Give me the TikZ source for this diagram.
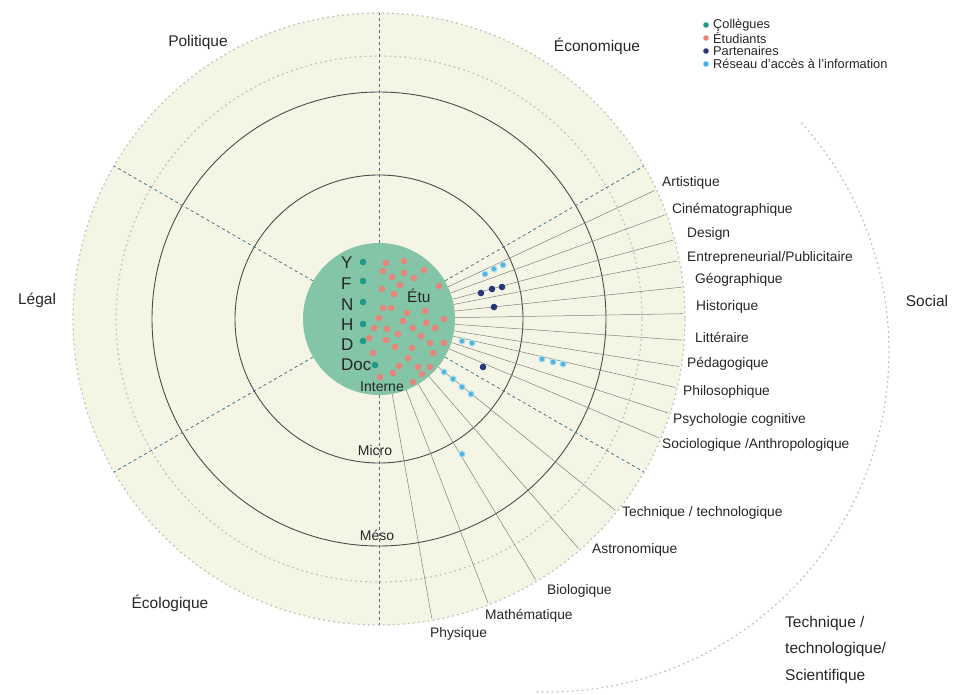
\documentclass[tikz,border=0pt]{standalone}
\usepackage{fontspec}
\setmainfont{Liberation Sans}
\usetikzlibrary{positioning}

\definecolor{creme}{HTML}{F5F5E5}
\definecolor{vert}{HTML}{84C4A7}
\definecolor{sarcelle}{HTML}{1E9A88}
\definecolor{saumon}{HTML}{E8857B}
\definecolor{marine}{HTML}{27367A}
\definecolor{ciel}{HTML}{4CB5E2}
\definecolor{halo}{HTML}{A9DCF2}
\definecolor{bleusect}{HTML}{3F7594}
\definecolor{pointille}{HTML}{C4C4BC}
\definecolor{texte}{HTML}{262626}

\tikzset{
  niveau/.style={draw=black!70, line width=0.9pt},
  zone/.style={draw=pointille, line width=1.2pt, dash pattern=on 2pt off 3pt},
  secteur/.style={draw=bleusect, line width=0.8pt, dash pattern=on 3pt off 3pt},
  rayon/.style={draw=black!50, line width=0.5pt},
  discipline/.style={font=\fontsize{13.8}{16}\selectfont, text=texte, anchor=west, inner sep=0pt},
  contexte/.style={font=\fontsize{15.5}{18}\selectfont, text=texte, inner sep=0pt},
  echelle/.style={font=\fontsize{14}{16}\selectfont, text=texte, inner sep=0pt},
  lettre/.style={font=\fontsize{17}{18}\selectfont, text=texte, anchor=west, inner sep=0pt},
  legende/.style={font=\fontsize{12.8}{14}\selectfont, text=texte, anchor=west, inner sep=0pt},
  noyau/.style={circle, fill=vert, minimum size=152pt, inner sep=0pt},
  reseau/.style={fill=ciel, draw=halo, line width=1pt}
}

\begin{document}
\begin{tikzpicture}[x=1pt, y=-1pt]
\useasboundingbox (0,0) rectangle (956,695);
\coordinate (c) at (379,319);

% fond et niveaux
\fill[creme] (c) circle[radius=306];
\draw[zone] (c) circle[radius=306];
\draw[zone] (c) circle[radius=263];
\draw[niveau] (c) circle[radius=227];
\draw[niveau] (c) circle[radius=144];
\draw[zone] plot[domain=42:-92, samples=90] ({548+341*cos(\x)},{351-341*sin(\x)});

\node[noyau] (noyau) at (c) {};

% secteurs
\foreach \a in {90,150,210,270,330,30}
  \draw[secteur] (noyau.\a) -- ([shift={(-\a:306)}]c);

% disciplines
\foreach \a in {25,20,15,11,6,1,-4,-9,-13,-18,-23,-39,-49,-59,-69,-80}
  \draw[rayon] (noyau.\a) -- ([shift={(-\a:304)}]c);

% interne
\foreach \p in {(386,263),(404,261),(383,271),(404,273),(424,270),(392,277),(414,278),
  (400,285),(439,286),(382,289),(394,294),(383,308),(391,308),(425,311),(407,313),
  (379,318),(403,321),(444,319),(426,323),(374,328),(387,329),(413,328),(435,328),
  (398,334),(369,338),(386,340),(421,336),(395,347),(412,348),(430,343),(444,343),
  (373,353),(433,353),(408,358),(399,366),(418,367),(430,367),(380,377),(393,373),
  (422,374),(413,382)}
  \fill[saumon] \p circle[radius=3.3];
\foreach \p in {(363,262),(363,281),(363,302),(363,324),(363,341),(375,365)}
  \fill[sarcelle] \p circle[radius=3.3];
\node[lettre] (ly) at (341,263) {Y};
\node[lettre] (lf) at (341,284) {F};
\node[lettre] (ln) at (341,305) {N};
\node[lettre] (lh) at (341,325) {H};
\node[lettre] (ld) at (341,345) {D};
\node[lettre] (ldoc) at (341,365) {Doc};
\node[lettre, font=\fontsize{15.5}{18}\selectfont] (letu) at (407,296) {Étu};
\node[echelle] (linterne) at (382,387) {Interne};

% partenaires et reseau
\foreach \p in {(481,293),(492,289),(502,287),(494,307),(483,367)}
  \fill[marine] \p circle[radius=3.3];
\foreach \p in {(485,274),(494,269),(503,265),(462,341),(472,343),(542,359),(553,362),
  (563,364),(444,372),(453,379),(462,387),(471,394),(462,454)}
  \path[reseau] \p circle[radius=3];

\node[echelle] (lmicro) at (375,450) {Micro};
\node[echelle] (lmeso) at (377,535) {Méso};

% etiquettes disciplines
\node[discipline] (art) at (662,183) {Artistique};
\node[discipline] (cine) at (672,210) {Cinématographique};
\node[discipline] (des) at (687,234) {Design};
\node[discipline] (ent) at (687,258) {Entrepreneurial/Publicitaire};
\node[discipline] (geo) at (695,280) {Géographique};
\node[discipline] (his) at (696,307) {Historique};
\node[discipline] (lit) at (695,337) {Littéraire};
\node[discipline] (ped) at (687,364) {Pédagogique};
\node[discipline] (phi) at (683,392) {Philosophique};
\node[discipline] (psy) at (673,420) {Psychologie cognitive};
\node[discipline] (soc) at (662,445) {Sociologique /Anthropologique};
\node[discipline] (tec) at (622,513) {Technique / technologique};
\node[discipline] (ast) at (592,550) {Astronomique};
\node[discipline] (bio) at (547,591) {Biologique};
\node[discipline] (mat) at (485,616) {Mathématique};
\node[discipline] (phy) at (430,634) {Physique};

% contextes
\node[contexte] (pol) at (198,42) {Politique};
\node[contexte] (eco) at (597,46) {Économique};
\node[contexte] (leg) at (37,300) {Légal};
\node[contexte] (soci) at (927,301) {Social};
\node[contexte] (ecol) at (170,603) {Écologique};
\node[contexte, anchor=north west, align=left, font=\fontsize{15.5}{26.5}\selectfont] (tts) at (785,616)
  {Technique /\\technologique/\\Scientifique};

% legende
\fill[sarcelle] (706,25) circle[radius=2.8];
\fill[saumon] (706,38) circle[radius=2.8];
\fill[marine] (706,51) circle[radius=2.8];
\fill[ciel] (706,64) circle[radius=2.8];
\node[legende] (lcol) at (713,25) {Çollègues};
\node[legende] (letud) at (713,38) {Étudiants};
\node[legende] (lpart) at (713,51) {Partenaires};
\node[legende] (lres) at (713,64) {Réseau d'accès à l'information};
\end{tikzpicture}
\end{document}
